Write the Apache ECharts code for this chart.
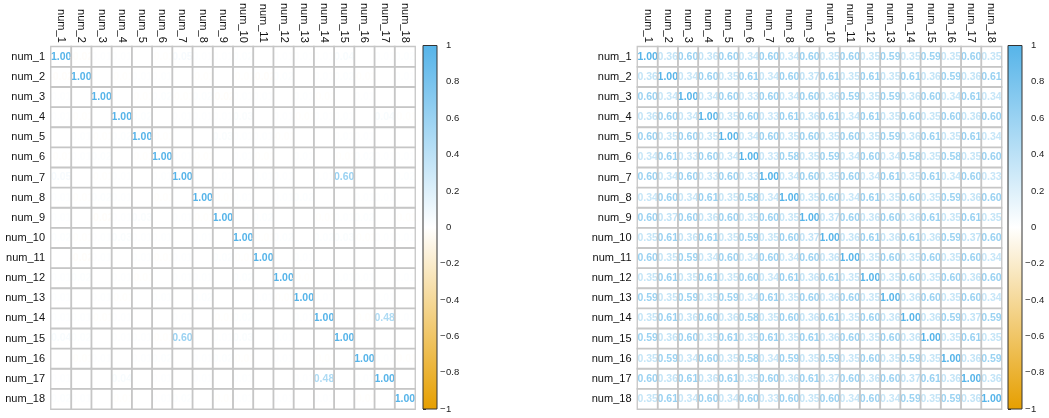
<!DOCTYPE html>
<html>
<head>
<meta charset="utf-8">
<script src="https://cdn.jsdelivr.net/npm/echarts@6/dist/echarts.min.js"></script>
<style>
  html, body { margin: 0; padding: 0; background: #ffffff; }
  #chart { width: 1049px; height: 418px; }
</style>
</head>
<body>
<div id="chart"></div>
<script>
// Variable names shared by both correlation matrices
const vars = ['num_1', 'num_2', 'num_3', 'num_4', 'num_5', 'num_6', 'num_7', 'num_8', 'num_9',
              'num_10', 'num_11', 'num_12', 'num_13', 'num_14', 'num_15', 'num_16', 'num_17', 'num_18'];

// Left matrix: lower triangle (row i holds columns 1..i, diagonal included)
const corrLeftLower = [
  [1.00],
  [-0.02, 1.00],
  [0.01, 0.00, 1.00],
  [0.01, -0.01, 0.00, 1.00],
  [0.00, 0.01, -0.01, 0.02, 1.00],
  [-0.01, 0.01, 0.02, 0.00, -0.01, 1.00],
  [0.05, 0.00, -0.01, 0.01, 0.00, 0.01, 1.00],
  [0.01, -0.01, 0.02, 0.01, 0.00, -0.01, 0.00, 1.00],
  [0.01, 0.00, -0.02, 0.01, 0.03, 0.00, 0.01, -0.01, 1.00],
  [0.02, -0.01, 0.01, 0.03, 0.01, 0.01, 0.00, 0.01, 0.00, 1.00],
  [0.00, -0.02, 0.01, 0.00, 0.01, -0.01, 0.01, 0.00, 0.02, -0.01, 1.00],
  [0.01, 0.02, 0.00, 0.01, -0.01, 0.00, 0.01, 0.01, 0.00, 0.02, 0.00, 1.00],
  [0.01, 0.00, 0.01, -0.01, 0.00, 0.01, 0.00, 0.02, 0.00, 0.00, 0.01, -0.01, 1.00],
  [0.01, 0.01, -0.01, 0.01, 0.00, 0.00, 0.01, 0.00, -0.01, 0.02, 0.00, 0.00, 0.01, 1.00],
  [0.04, 0.02, 0.00, 0.01, 0.01, -0.01, 0.60, 0.00, 0.01, 0.03, 0.00, 0.01, 0.00, 0.00, 1.00],
  [0.00, -0.01, 0.01, 0.00, 0.01, 0.02, 0.00, 0.01, 0.02, -0.01, 0.00, 0.01, 0.00, -0.01, 0.00, 1.00],
  [0.01, 0.00, 0.00, 0.04, 0.00, 0.01, 0.00, 0.01, 0.00, 0.01, 0.00, 0.00, 0.01, 0.48, 0.00, 0.01, 1.00],
  [0.02, 0.01, 0.00, -0.01, 0.00, 0.01, 0.02, 0.00, -0.01, 0.01, 0.00, 0.01, 0.00, 0.01, 0.00, -0.01, 0.00, 1.00]
];

// Right matrix: full rows
const corrRight = [
  [1.00, 0.36, 0.60, 0.36, 0.60, 0.34, 0.60, 0.34, 0.60, 0.35, 0.60, 0.35, 0.59, 0.35, 0.59, 0.35, 0.60, 0.35],
  [0.36, 1.00, 0.34, 0.60, 0.35, 0.61, 0.34, 0.60, 0.37, 0.61, 0.35, 0.61, 0.35, 0.61, 0.36, 0.59, 0.36, 0.61],
  [0.60, 0.34, 1.00, 0.34, 0.60, 0.33, 0.60, 0.34, 0.60, 0.36, 0.59, 0.35, 0.59, 0.36, 0.60, 0.34, 0.61, 0.34],
  [0.36, 0.60, 0.34, 1.00, 0.35, 0.60, 0.33, 0.61, 0.36, 0.61, 0.34, 0.61, 0.35, 0.60, 0.35, 0.60, 0.36, 0.60],
  [0.60, 0.35, 0.60, 0.35, 1.00, 0.34, 0.60, 0.35, 0.60, 0.35, 0.60, 0.35, 0.59, 0.36, 0.61, 0.35, 0.61, 0.34],
  [0.34, 0.61, 0.33, 0.60, 0.34, 1.00, 0.33, 0.58, 0.35, 0.59, 0.34, 0.60, 0.34, 0.58, 0.35, 0.58, 0.35, 0.60],
  [0.60, 0.34, 0.60, 0.33, 0.60, 0.33, 1.00, 0.34, 0.60, 0.35, 0.60, 0.34, 0.61, 0.35, 0.61, 0.34, 0.60, 0.33],
  [0.34, 0.60, 0.34, 0.61, 0.35, 0.58, 0.34, 1.00, 0.35, 0.60, 0.34, 0.61, 0.35, 0.60, 0.35, 0.59, 0.36, 0.60],
  [0.60, 0.37, 0.60, 0.36, 0.60, 0.35, 0.60, 0.35, 1.00, 0.37, 0.60, 0.36, 0.60, 0.36, 0.61, 0.35, 0.61, 0.35],
  [0.35, 0.61, 0.36, 0.61, 0.35, 0.59, 0.35, 0.60, 0.37, 1.00, 0.36, 0.61, 0.36, 0.61, 0.36, 0.59, 0.37, 0.60],
  [0.60, 0.35, 0.59, 0.34, 0.60, 0.34, 0.60, 0.34, 0.60, 0.36, 1.00, 0.35, 0.60, 0.35, 0.60, 0.35, 0.60, 0.34],
  [0.35, 0.61, 0.35, 0.61, 0.35, 0.60, 0.34, 0.61, 0.36, 0.61, 0.35, 1.00, 0.35, 0.60, 0.35, 0.60, 0.36, 0.60],
  [0.59, 0.35, 0.59, 0.35, 0.59, 0.34, 0.61, 0.35, 0.60, 0.36, 0.60, 0.35, 1.00, 0.36, 0.60, 0.35, 0.60, 0.34],
  [0.35, 0.61, 0.36, 0.60, 0.36, 0.58, 0.35, 0.60, 0.36, 0.61, 0.35, 0.60, 0.36, 1.00, 0.36, 0.59, 0.37, 0.59],
  [0.59, 0.36, 0.60, 0.35, 0.61, 0.35, 0.61, 0.35, 0.61, 0.36, 0.60, 0.35, 0.60, 0.36, 1.00, 0.35, 0.61, 0.35],
  [0.35, 0.59, 0.34, 0.60, 0.35, 0.58, 0.34, 0.59, 0.35, 0.59, 0.35, 0.60, 0.35, 0.59, 0.35, 1.00, 0.36, 0.59],
  [0.60, 0.36, 0.61, 0.36, 0.61, 0.35, 0.60, 0.36, 0.61, 0.37, 0.60, 0.36, 0.60, 0.37, 0.61, 0.36, 1.00, 0.36],
  [0.35, 0.61, 0.34, 0.60, 0.34, 0.60, 0.33, 0.60, 0.35, 0.60, 0.34, 0.60, 0.34, 0.59, 0.35, 0.59, 0.36, 1.00]
];

// Colour scale range
const scaleRange = [-1, 1];

// Expand the lower triangle into a symmetric matrix
function symmetric(lower) {
  return lower.map((_, i) => lower.map((__, j) => (j <= i ? lower[i][j] : lower[j][i])));
}

// Orange -> white -> sky blue diverging palette
const NEG = [230, 159, 0], MID = [255, 255, 255], POS = [86, 180, 233];
function corrColor(v) {
  const t = Math.min(1, Math.abs(v));
  const end = v >= 0 ? POS : NEG;
  const c = MID.map((m, k) => Math.round(m + (end[k] - m) * t));
  return 'rgb(' + c.join(',') + ')';
}

function cellData(m) {
  const out = [];
  m.forEach((row, r) => row.forEach((v, c) => {
    out.push({ value: [c, r, v], label: { color: corrColor(v) } });
  }));
  return out;
}

const FONT = '"Liberation Sans", Arial, Helvetica, sans-serif';
const GRID_LINE = '#c6c6c6';

const panels = [
  { matrix: symmetric(corrLeftLower), left: 51, barLeft: 423 },
  { matrix: corrRight, left: 637.5, barLeft: 1008 }
];

const grid = [], xAxis = [], yAxis = [], series = [];
panels.forEach((p, k) => {
  const gi = k * 2, bi = k * 2 + 1;
  grid.push({ left: p.left, top: 45.5, width: 364, height: 363.5 });
  grid.push({ left: p.barLeft, top: 45.5, width: 14, height: 363.5 });

  xAxis.push({
    type: 'category', gridIndex: gi, data: vars, position: 'top',
    axisLine: { show: false }, axisTick: { show: false }, splitLine: { show: false },
    axisLabel: { rotate: 90, margin: 4, fontSize: 11, color: '#111', fontFamily: FONT, interval: 0 }
  });
  yAxis.push({
    type: 'category', gridIndex: gi, data: vars, inverse: true,
    axisLine: { show: false }, axisTick: { show: false }, splitLine: { show: false },
    axisLabel: { margin: 6, fontSize: 11, color: '#111', fontFamily: FONT, interval: 0 }
  });

  // colour bar axes
  xAxis.push({ type: 'value', gridIndex: bi, min: 0, max: 1, show: false });
  yAxis.push({
    type: 'value', gridIndex: bi, min: scaleRange[0], max: scaleRange[1], interval: 0.2,
    position: 'right',
    axisLine: { show: false },
    axisTick: { show: true, length: 3, lineStyle: { color: '#333', width: 1 } },
    splitLine: { show: false },
    axisLabel: {
      margin: 3, color: '#222', fontSize: 9.5, fontFamily: FONT,
      formatter: v => {
        const r = Math.round(v * 10) / 10;
        const s = String(Math.abs(r));
        return (r < 0 ? '{m|\u2212}' : '{m|\u00a0}') + '{d|' + s + '}';
      },
      rich: {
        m: { width: 6, fontSize: 9.5, fontFamily: FONT, color: '#222' },
        d: { fontSize: 9.5, fontFamily: FONT, color: '#222' }
      }
    }
  });

  // numbers
  series.push({
    type: 'heatmap', xAxisIndex: gi, yAxisIndex: gi, z: 2,
    data: cellData(p.matrix),
    itemStyle: { color: '#ffffff', borderWidth: 0 },
    label: {
      show: true, fontSize: 10.5, fontWeight: 'bold', fontFamily: FONT,
      formatter: q => q.value[2].toFixed(2)
    },
    emphasis: { disabled: true }, silent: true
  });
  // grid lines drawn over the numbers
  series.push({
    type: 'heatmap', xAxisIndex: gi, yAxisIndex: gi, z: 5,
    data: cellData(p.matrix).map(d => ({ value: d.value })),
    itemStyle: { color: 'rgba(255,255,255,0)', borderColor: GRID_LINE, borderWidth: 1.3 },
    label: { show: false },
    emphasis: { disabled: true }, silent: true
  });
  // colour bar
  series.push({
    type: 'custom', xAxisIndex: bi, yAxisIndex: bi, silent: true,
    data: [[0, scaleRange[0]]],
    renderItem: (params, api) => {
      const a = api.coord([0, scaleRange[1]]);
      const b = api.coord([1, scaleRange[0]]);
      return {
        type: 'rect',
        shape: { x: a[0], y: a[1], width: b[0] - a[0], height: b[1] - a[1] },
        style: {
          fill: new echarts.graphic.LinearGradient(0, 0, 0, 1, [
            { offset: 0, color: 'rgb(' + POS.join(',') + ')' },
            { offset: 0.5, color: 'rgb(' + MID.join(',') + ')' },
            { offset: 1, color: 'rgb(' + NEG.join(',') + ')' }
          ]),
          stroke: '#333', lineWidth: 1
        }
      };
    }
  });
});

const chart = echarts.init(document.getElementById('chart'), null, { renderer: 'canvas' });
chart.setOption({
  animation: false,
  backgroundColor: '#ffffff',
  textStyle: { fontFamily: FONT },
  grid, xAxis, yAxis, series
});
</script>
</body>
</html>
